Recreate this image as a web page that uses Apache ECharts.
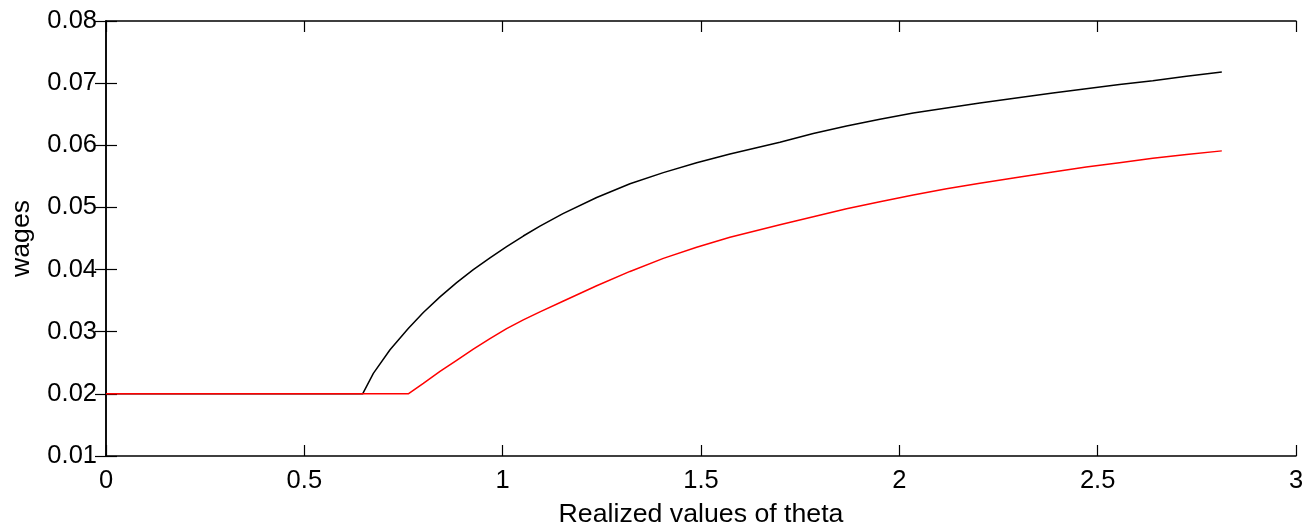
<!DOCTYPE html>
<html>
<head>
<meta charset="utf-8">
<script src="https://cdn.jsdelivr.net/npm/echarts@6/dist/echarts.min.js"></script>
<style>
html,body{margin:0;padding:0;background:#fff;overflow:hidden;}
#chart{width:1308px;height:527px;}
</style>
</head>
<body>
<div id="chart"></div>
<script>
// Data
var theta = [0, 0.647, 0.674, 0.716, 0.762, 0.80, 0.842, 0.884, 0.926, 0.968, 1.01, 1.052, 1.094, 1.152, 1.237, 1.321, 1.405, 1.489, 1.573, 1.699, 1.783, 1.867, 1.951, 2.035, 2.119, 2.203, 2.304, 2.387, 2.471, 2.555, 2.639, 2.724, 2.813];
var wagesBlack = [0.02, 0.02, 0.0233, 0.0271, 0.0305, 0.0331, 0.0356, 0.0379, 0.0400, 0.0419, 0.0437, 0.0454, 0.0470, 0.0490, 0.0516, 0.0538, 0.0556, 0.0572, 0.0586, 0.0605, 0.0619, 0.0631, 0.0642, 0.0652, 0.0660, 0.0668, 0.0677, 0.0684, 0.0691, 0.0698, 0.0704, 0.0711, 0.0718];
var wagesRed = [0.02, 0.02, 0.02, 0.02, 0.02, 0.0217, 0.0236, 0.0254, 0.0272, 0.0289, 0.0305, 0.0319, 0.0332, 0.0349, 0.0374, 0.0397, 0.0418, 0.0436, 0.0452, 0.0472, 0.0485, 0.0498, 0.0509, 0.0520, 0.0530, 0.0539, 0.0549, 0.0557, 0.0565, 0.0572, 0.0579, 0.0585, 0.0591];
var xTicks = {min: 0, max: 3, interval: 0.5};
var yTicks = {min: 0.01, max: 0.08, interval: 0.01};
var xLabel = 'Realized values of theta';
var yLabel = 'wages';

function pairs(xs, ys) { return xs.map(function (x, i) { return [x, ys[i]]; }); }

var FONT = '"Liberation Sans", Arial, Helvetica, sans-serif';
var axisLine = {show: true, lineStyle: {color: '#000', width: 1.5}};
var tick = {show: true, inside: true, length: 11, lineStyle: {color: '#000', width: 1.2}};
var label = {color: '#000', fontSize: 25.5, fontFamily: FONT};

var chart = echarts.init(document.getElementById('chart'), null, {renderer: 'canvas', width: 1308, height: 527});
chart.setOption({
  animation: false,
  backgroundColor: '#fff',
  grid: {left: 106, top: 21, width: 1190, height: 435, containLabel: false, outerBoundsMode: 'none'},
  xAxis: [
    {type: 'value', position: 'bottom', min: xTicks.min, max: xTicks.max, interval: xTicks.interval,
     axisLine: axisLine, axisTick: tick, splitLine: {show: false},
     axisLabel: Object.assign({margin: 12}, label),
     name: xLabel, nameLocation: 'middle', nameGap: 45,
     nameTextStyle: {color: '#000', fontSize: 26.7, fontFamily: FONT}},
    {type: 'value', position: 'top', min: xTicks.min, max: xTicks.max, interval: xTicks.interval,
     axisLine: axisLine, axisTick: tick, splitLine: {show: false}, axisLabel: {show: false}}
  ],
  yAxis: [
    {type: 'value', position: 'left', min: yTicks.min, max: yTicks.max, interval: yTicks.interval,
     axisLine: axisLine, axisTick: tick, splitLine: {show: false},
     axisLabel: Object.assign({margin: 9, formatter: function (v) { return v.toFixed(2); }}, label),
     name: yLabel, nameLocation: 'middle', nameGap: 71, nameRotate: 90,
     nameTextStyle: {color: '#000', fontSize: 26.7, fontFamily: FONT}},
    {type: 'value', position: 'right', min: yTicks.min, max: yTicks.max, interval: yTicks.interval,
     axisLine: axisLine, axisTick: tick, splitLine: {show: false}, axisLabel: {show: false}}
  ],
  series: [
    {type: 'line', data: pairs(theta, wagesBlack), showSymbol: false, symbol: 'none',
     lineStyle: {color: '#000', width: 1.5}, itemStyle: {color: '#000'}},
    {type: 'line', data: pairs(theta, wagesRed), showSymbol: false, symbol: 'none',
     lineStyle: {color: '#ff0000', width: 1.5}, itemStyle: {color: '#ff0000'}}
  ]
});
</script>
</body>
</html>
